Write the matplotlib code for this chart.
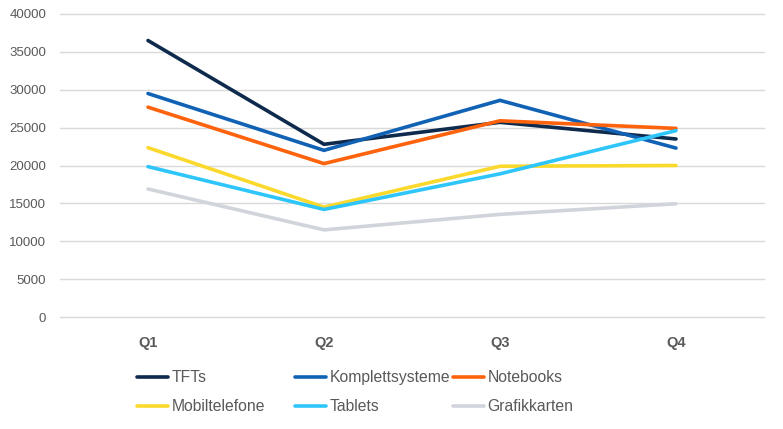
import matplotlib
matplotlib.use("Agg")
import matplotlib.pyplot as plt

categories = ["Q1", "Q2", "Q3", "Q4"]
series_names = ["TFTs", "Komplettsysteme", "Notebooks", "Mobiltelefone", "Tablets", "Grafikkarten"]
tfts = [36500, 22800, 25700, 23500]
komplettsysteme = [29500, 22000, 28600, 22300]
notebooks = [27700, 20250, 25900, 24900]
mobiltelefone = [22350, 14500, 19900, 20000]
tablets = [19850, 14200, 18900, 24600]
grafikkarten = [16900, 11500, 13550, 14950]
colors = ["#0e2a4c", "#1162b4", "#fd620c", "#fbd92c", "#2ec6fa", "#d1d4db"]
yticks = [0, 5000, 10000, 15000, 20000, 25000, 30000, 35000, 40000]

data = [tfts, komplettsysteme, notebooks, mobiltelefone, tablets, grafikkarten]

plt.rcParams['font.family'] = ['Liberation Sans', 'DejaVu Sans']
fig = plt.figure(figsize=(7.83, 4.29), dpi=100)
ax = fig.add_axes([60/783, 1-317/429, (764-60)/783, (317-14)/429])

x = list(range(len(categories)))
lines = []
for name, vals, c in zip(series_names, data, colors):
    ln, = ax.plot(x, vals, color=c, lw=2.6, solid_capstyle='round', solid_joinstyle='miter', label=name)
    lines.append(ln)

ax.set_xlim(-0.5, 3.5)
ax.set_ylim(0, 40000)
ax.set_yticks(yticks)
ax.set_yticklabels([str(v) for v in yticks])
ax.set_xticks(x)
ax.set_xticklabels(categories, fontweight='bold')
ax.grid(axis='y', color='#d9d9d9', lw=1)
for gl in ax.get_ygridlines():
    gl.set_clip_on(False)
ax.set_axisbelow(True)
for s in ax.spines.values():
    s.set_visible(False)
ax.tick_params(axis='y', length=0, pad=10, labelsize=9.5, labelcolor='#595959')
ax.tick_params(axis='x', length=0, pad=14, labelsize=10.5, labelcolor='#595959')

col_x = [137, 295, 453]
for ci in range(3):
    hs = [lines[ci], lines[ci+3]]
    leg = fig.legend(handles=hs, labels=[h.get_label() for h in hs],
                     loc='upper left', bbox_to_anchor=(col_x[ci]/783, 1-370/429),
                     frameon=False, borderpad=0, borderaxespad=0,
                     handlelength=2.0, handletextpad=0.2,
                     labelspacing=0.92, fontsize=11.3, labelcolor='#595959')

fig.savefig("out.png", dpi=100)
